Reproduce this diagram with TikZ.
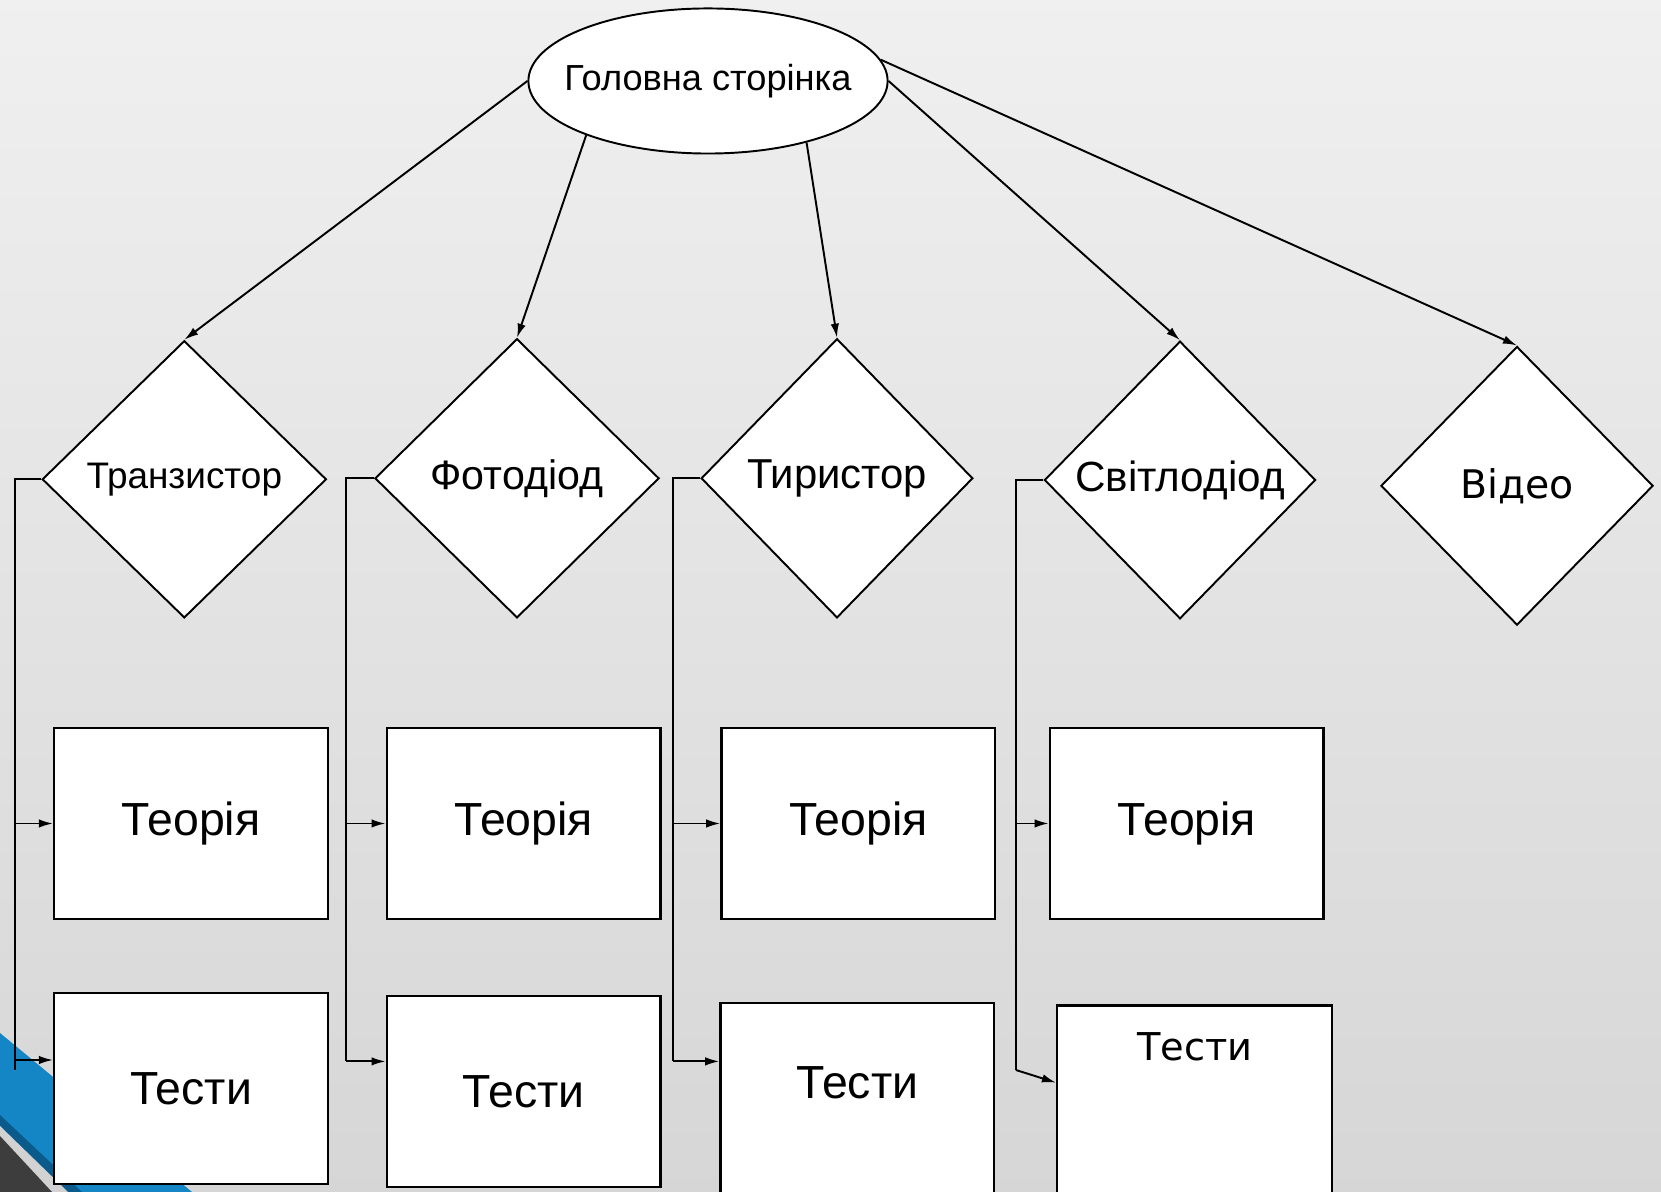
\documentclass[tikz,border=0pt]{standalone}
\usepackage{fontspec}
\setmainfont{Liberation Sans}
\newfontfamily\dejavu{DejaVu Sans}
\usetikzlibrary{shapes.geometric,arrows.meta}
\definecolor{themeblue}{HTML}{1486C5}
\definecolor{themenavy}{HTML}{0B5A8C}
\definecolor{themelight}{HTML}{D2D2D2}
\definecolor{themedark}{HTML}{3D3D3D}
\tikzset{
  rhomb/.style={diamond, draw, fill=white, line width=0.55pt, inner sep=0pt, minimum width=2.84cm, minimum height=2.77cm},
  page/.style={rectangle, draw, fill=white, line width=0.7pt, inner sep=0pt, anchor=north west, minimum width=2.735cm, minimum height=1.91cm, font=\fontsize{13.2pt}{15pt}\selectfont},
  link/.style={line width=0.55pt, -{Latex[length=4pt,width=2.4pt]}},
  bus/.style={line width=0.55pt}
}
\begin{document}
\begin{tikzpicture}[x=0.01cm,y=-0.01cm]
            \useasboundingbox (0,0) rectangle (1661,1192);
            \shade[top color=black!6,bottom color=black!16] (0,0) rectangle (1661,1192);
            \clip (0,0) rectangle (1661,1192);
            \fill[themeblue] (0,1033) -- (192,1192) -- (0,1192) -- cycle;
            \fill[themenavy] (0,1115) -- (82,1192) -- (0,1192) -- cycle;
            \fill[themelight] (0,1126) -- (68,1192) -- (0,1192) -- cycle;
            \fill[themedark] (0,1136) -- (52,1192) -- (0,1192) -- cycle;
            \node[ellipse, draw, fill=white, line width=0.55pt, inner sep=0pt, minimum width=3.59cm, minimum height=1.45cm, font=\fontsize{10.3pt}{12pt}\selectfont] (home) at (708,81) {\makebox[0pt]{\raisebox{1.2pt}{Головна сторінка}}};
            \node[rhomb, font=\fontsize{10.5pt}{12pt}\selectfont] (trans) at (184.3,479.3) {Транзистор};
            \node[rhomb, minimum height=2.79cm, font=\fontsize{11.7pt}{13pt}\selectfont] (photo) at (517,478.3) {Фотодіод};
            \node[rhomb, minimum width=2.715cm, minimum height=2.79cm, font=\fontsize{11.9pt}{13pt}\selectfont] (thyr) at (837,478.3) {Тиристор};
            \node[rhomb, minimum width=2.71cm, minimum height=2.775cm, font=\fontsize{12pt}{13pt}\selectfont] (led) at (1180,480) {Світлодіод};
            \node[rhomb, minimum width=2.72cm, minimum height=2.785cm, font=\dejavu\fontsize{11.2pt}{13pt}\selectfont] (video) at (1517,485.8) {Відео};
            \node[page] (th1) at (53,726.7) {Теорія};
            \node[page] (th2) at (385.6,726.7) {Теорія};
            \node[page] (th3) at (720.3,726.7) {Теорія};
            \node[page] (th4) at (1048.7,726.7) {Теорія};
            \node[page] (ts1) at (53,991.5) {Тести};
            \node[page] (ts2) at (385.6,994.7) {Тести};
            \node[page, text height=0.95cm, text depth=1.05cm] (ts3) at (719.3,1002) {Тести};
            \node[page, minimum width=2.747cm, text height=0.545cm, text depth=1.45cm, font=\dejavu\fontsize{10.9pt}{13pt}\selectfont] (ts4) at (1056,1004.3) {Тести};
            \draw[link] (home.west) -- (trans.north);
            \draw[link] (home.204) -- (photo.north);
            \draw[link] (home.328) -- (thyr.north);
            \draw[link] (home.east) -- (led.north);
            \draw[link] (home.7) -- (video.north);
            \coordinate (end1) at (15,1070);
            \coordinate (hit1) at (15,1060);
            \coordinate (end2) at (346.4,1061.4);
            \coordinate (end3) at (672.6,1061.4);
            \coordinate (end4) at (1015.9,1070);
            \draw[bus] (trans.west) -| (end1);
            \draw[bus] (photo.west) -| (end2);
            \draw[bus] (thyr.west) -| (end3);
            \draw[bus] (led.west) -| (end4);
            \draw[link] (end1 |- th1.west) -- (th1.west);
            \draw[link] (end2 |- th2.west) -- (th2.west);
            \draw[link] (end3 |- th3.west) -- (th3.west);
            \draw[link] (end4 |- th4.west) -- (th4.west);
            \draw[link] (hit1) -- (hit1 -| ts1.west);
            \draw[link] (end2) -- (end2 -| ts2.west);
            \draw[link] (end3) -- (end3 -| ts3.west);
            \draw[link] (end4) -- ([yshift=-0.783cm]ts4.north west);
        \end{tikzpicture}
\end{document}
